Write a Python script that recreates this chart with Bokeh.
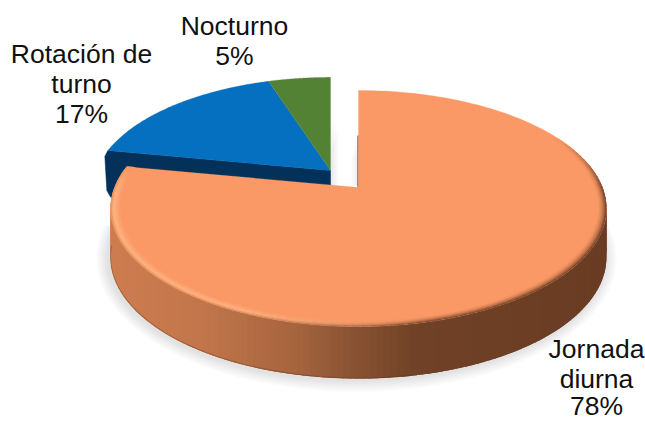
import math
from bokeh.plotting import figure
from bokeh.models import Range1d
from bokeh.core.properties import value
from bokeh.embed import file_html
from bokeh.resources import INLINE

categories = ["Jornada diurna", "Rotación de turno", "Nocturno"]
shares = [78, 17, 5]
label_lines = [["Jornada", "diurna", "78%"], ["Rotación de", "turno", "17%"], ["Nocturno", "5%"]]
label_x = [596, 81, 234]
label_y = [[348, 378, 405], [53, 83, 113], [25, 55]]
top_colors = ["#fb9966", "#0570c0", "#548235"]

W, H = 645, 421
p = figure(width=W, height=H, output_backend="svg", toolbar_location=None,
           x_range=Range1d(0, W), y_range=Range1d(H, 0), min_border=0,
           outline_line_color=None, background_fill_color="white", border_fill_color="white")
p.axis.visible = False
p.grid.visible = False

C, X, Y = 0.178, 244.0, 114.3
AP = (358.0, 187.0)      # apex of large slice
AP2 = (330.0, 170.0)     # apex of exploded slices


def pt(theta, r=1.0, apex=AP, s=1.0, dy=0.0):
    t = math.radians(theta)
    u, v = r * math.sin(t), r * math.cos(t)
    d = 1 + C * v
    return apex[0] + s * X * u / d, apex[1] + s * Y * (-v) / d + dy


def depth(theta):
    return 48 - 4 * math.cos(math.radians(theta))


def mix(a, b, t):
    t = max(0.0, min(1.0, t))
    return tuple(a[i] + (b[i] - a[i]) * t for i in range(3))


def hexc(c):
    return "#%02x%02x%02x" % tuple(int(round(x)) for x in c)


WALL = [(112, (205, 125, 80)), (200, (195, 118, 75)), (300, (165, 100, 62)), (360, (135, 82, 50)),
        (420, (112, 65, 38)), (610, (105, 60, 35))]


def wall_col(x):
    if x <= WALL[0][0]:
        return WALL[0][1]
    for (a, ca), (b, cb) in zip(WALL, WALL[1:]):
        if x <= b:
            return mix(ca, cb, (x - a) / (b - a))
    return WALL[-1][1]


# angles from the values
total = sum(shares)
ends = []
acc = 0
for v_ in shares:
    start = acc
    acc += v_
    ends.append((start * 3.6, acc * 3.6))

N = 80
# soft shadows
for i in range(6):
    g = 2 + i * 2
    xs, ys = [], []
    for k in range(181):
        th = k * 2
        x0, y0 = pt(th)
        x0 = 358 + (x0 - 358) * (1 + g / 248)
        y0 = 208 + (y0 - 208) * (1 + g / 118)
        xs.append(x0 - 2)
        ys.append(y0 + depth(th) + 1)
    keep = [j for j, k in enumerate(range(181)) if 60 <= k * 2 <= 275]
    p.patch([xs[j] for j in keep], [ys[j] for j in keep],
            fill_color="#808080", fill_alpha=0.04, line_color=None)
a0, a1 = ends[1][0], ends[2][1]
for i in range(5):
    g = 2 + i * 1.5
    arc = [pt(a0 + (a1 - a0) * k / N, apex=AP2, s=0.96) for k in range(N + 1)]
    xs = [AP2[0] + g, AP2[0] + g, arc[0][0] - 2, arc[0][0] + 8, AP2[0] - 30]
    ys = [AP2[1] - 55 + i * 4, AP2[1] + 20, arc[0][1] + 30, arc[0][1] + 47 + g, AP2[1] + 47 + g]
    p.patch(xs, ys, fill_color="#808080", fill_alpha=0.03, line_color=None)
for i in range(5):
    g = 1.5 + i * 1.4
    p.patch([AP[0] - g, AP[0], AP[0], AP[0] - g], [AP[1] - 55 + i * 6, AP[1] - 55 + i * 6, AP[1] - 2, AP[1] - 2],
            fill_color="#808080", fill_alpha=0.03, line_color=None)

# exploded slices: cut face in dark blue
cx, cy = pt(ends[1][0], apex=AP2, s=0.96)
p.patch([AP2[0], cx, cx - 3, cx - 1, cx + 3, AP2[0]],
        [AP2[1], cy, cy + 6, cy + 40, cy + 47, AP2[1] + 47],
        fill_color="#03315a", line_color="#03315a", line_width=0.5)

# exploded slices: top faces
for i in (1, 2):
    a, b = ends[i]
    arc = [pt(a + (b - a) * k / N, apex=AP2, s=0.96) for k in range(N + 1)]
    p.patch([AP2[0]] + [q[0] for q in arc], [AP2[1]] + [q[1] for q in arc],
            fill_color=top_colors[i], line_color=top_colors[i], line_width=0.3)

# large slice: side wall as overlapping strips
a, b = ends[0]
strip_x, strip_y, strip_c = [], [], []
STEPS = 150
for k in range(STEPS):
    t0 = 75 + (270 - 75) * k / STEPS
    t1 = 75 + (270 - 75) * (k + 2.2) / STEPS
    x0, y0 = pt(t0)
    x1, y1 = pt(min(t1, 270))
    strip_x.append([x0, x1, x1, x0])
    strip_y.append([y0, y1, y1 + depth(t1), y0 + depth(t0)])
    strip_c.append(hexc(wall_col(x0)))
p.patches(strip_x, strip_y, fill_color=strip_c, line_color=None)

# darker lower edge on the left of the wall
edge = [pt(170 + 95 * k / 60) for k in range(61)]
p.line([q[0] for q in edge],
       [q[1] + depth(170 + 95 * k / 60) - 0.5 for k, q in enumerate(edge)],
       line_color="#5a3018", line_alpha=0.3, line_width=1.2)

# thin wall at the vertical cut
p.line([AP[0] - 0.5, AP[0] - 0.5], [135, AP[1]], line_color="#7a4a30", line_width=1.2)

# large slice: top face
arc = [pt(a + (b - a) * k / 240) for k in range(241)]
p.patch([AP[0]] + [q[0] for q in arc], [AP[1]] + [q[1] for q in arc],
        fill_color=top_colors[0], line_color=top_colors[0], line_width=0.3)

# bevelled rim
orange = (251, 153, 102)
light = (252, 180, 130)
RINGS = 7
rx, ry, rc = [], [], []
for k in range(120):
    t0 = 62 + (280 - 62) * k / 120
    t1 = 62 + (280 - 62) * (k + 1.6) / 120
    tm = (t0 + t1) / 2
    w_light = min(1.0, max(0.0, (tm - 165) / 40))
    fade = min(1.0, (tm - 62) / 28) * min(1.0, max(0.0, (280 - tm) / 10))
    for j in range(RINGS):
        r0 = 0.962 + (1 - 0.962) * j / RINGS
        r1 = min(0.962 + (1 - 0.962) * (j + 1.3) / RINGS, 1.0)
        f = (j + 0.5) / RINGS
        pa, pb, pc, pd = pt(t0, r0), pt(t1, r0), pt(t1, r1), pt(t0, r1)
        wc = wall_col(pd[0])
        dark = mix(orange, wc, f * f)
        if f < 0.7:
            lit = mix(orange, light, f / 0.7)
        else:
            lit = mix(light, mix(orange, wc, 0.45), (f - 0.7) / 0.3)
        col = mix(orange, mix(dark, lit, w_light), fade)
        rx.append([pa[0], pb[0], pc[0], pd[0]])
        ry.append([pa[1], pb[1], pc[1], pd[1]])
        rc.append(hexc(col))
p.patches(rx, ry, fill_color=rc, line_color=None)

# labels
for lines, lx, lys in zip(label_lines, label_x, label_y):
    for line, ly in zip(lines, lys):
        p.text([lx], [ly], text=[line], text_align="center", text_baseline="middle",
               text_font=value("Liberation Sans"), text_font_size="26.5px", text_color="#111111")

open("out.html", "w").write(file_html(p, INLINE))
